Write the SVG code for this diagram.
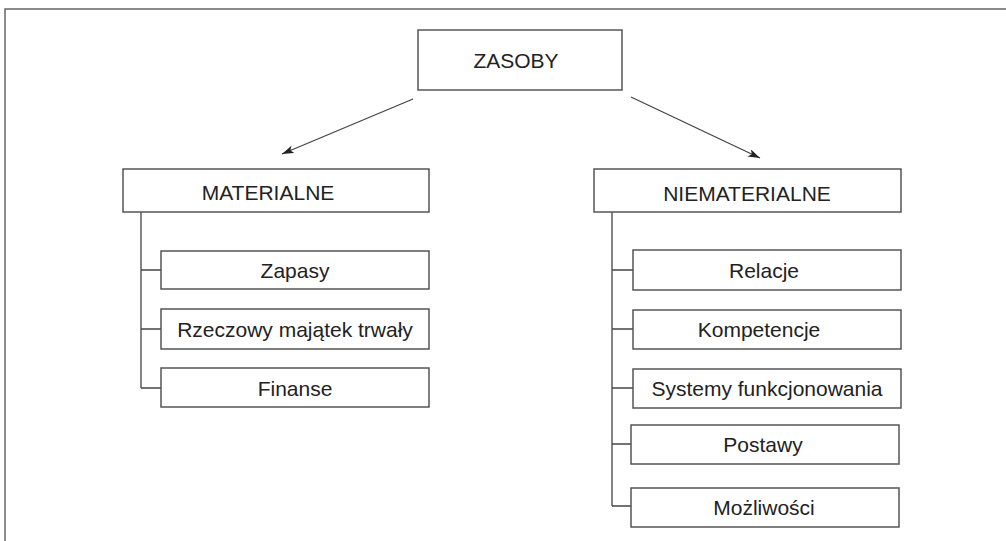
<svg xmlns="http://www.w3.org/2000/svg" width="1006" height="541" viewBox="0 0 1006 541">
<style>
.box{fill:#fff;stroke:#555;stroke-width:1.5}
.ln{fill:none;stroke:#444;stroke-width:1.3}
.t{font-family:"Liberation Sans",Arial,sans-serif;font-size:21px;fill:#222;text-anchor:middle}
</style>
<defs>
<marker id="ah" viewBox="0 0 12 8" refX="12" refY="4" markerWidth="12" markerHeight="8" markerUnits="userSpaceOnUse" orient="auto">
<path d="M0,0 L12,4 L0,8 L3,4 Z" fill="#222"/>
</marker>
</defs>
<rect width="1006" height="541" fill="#fff"/>
<path d="M5,541 V9 H1006" fill="none" stroke="#666" stroke-width="1.5"/>
<g id="connectors">
<line class="ln" x1="413" y1="99" x2="282" y2="154" marker-end="url(#ah)"/>
<line class="ln" x1="631" y1="97" x2="760" y2="158" marker-end="url(#ah)"/>
<path class="ln" d="M141,212 V388 M141,270 H161 M141,329 H161 M141,388 H161"/>
<path class="ln" d="M612,212 V506 M612,270 H633 M612,329 H633 M612,388 H633 M612,444 H631 M612,506 H631"/>
</g>
<g id="zasoby"><rect class="box" x="418" y="30" width="204" height="60"/><text class="t" x="516" y="68">ZASOBY</text></g>
<g id="materialne"><rect class="box" x="123" y="169" width="306" height="43"/><text class="t" x="268" y="200">MATERIALNE</text></g>
<g id="zapasy"><rect class="box" x="161" y="251" width="268" height="38"/><text class="t" x="295" y="278">Zapasy</text></g>
<g id="rzeczowy"><rect class="box" x="161" y="309" width="268" height="40"/><text class="t" x="295" y="337">Rzeczowy majątek trwały</text></g>
<g id="finanse"><rect class="box" x="161" y="368" width="268" height="39"/><text class="t" x="295" y="396">Finanse</text></g>
<g id="niematerialne"><rect class="box" x="594" y="169" width="307" height="43"/><text class="t" x="747" y="201">NIEMATERIALNE</text></g>
<g id="relacje"><rect class="box" x="633" y="250" width="268" height="40"/><text class="t" x="764" y="278">Relacje</text></g>
<g id="kompetencje"><rect class="box" x="633" y="310" width="268" height="39"/><text class="t" x="759" y="337">Kompetencje</text></g>
<g id="systemy"><rect class="box" x="633" y="369" width="268" height="39"/><text class="t" x="767" y="396">Systemy funkcjonowania</text></g>
<g id="postawy"><rect class="box" x="631" y="425" width="268" height="39"/><text class="t" x="763" y="452">Postawy</text></g>
<g id="mozliwosci"><rect class="box" x="631" y="488" width="268" height="39"/><text class="t" x="764" y="515">Możliwości</text></g>
</svg>
